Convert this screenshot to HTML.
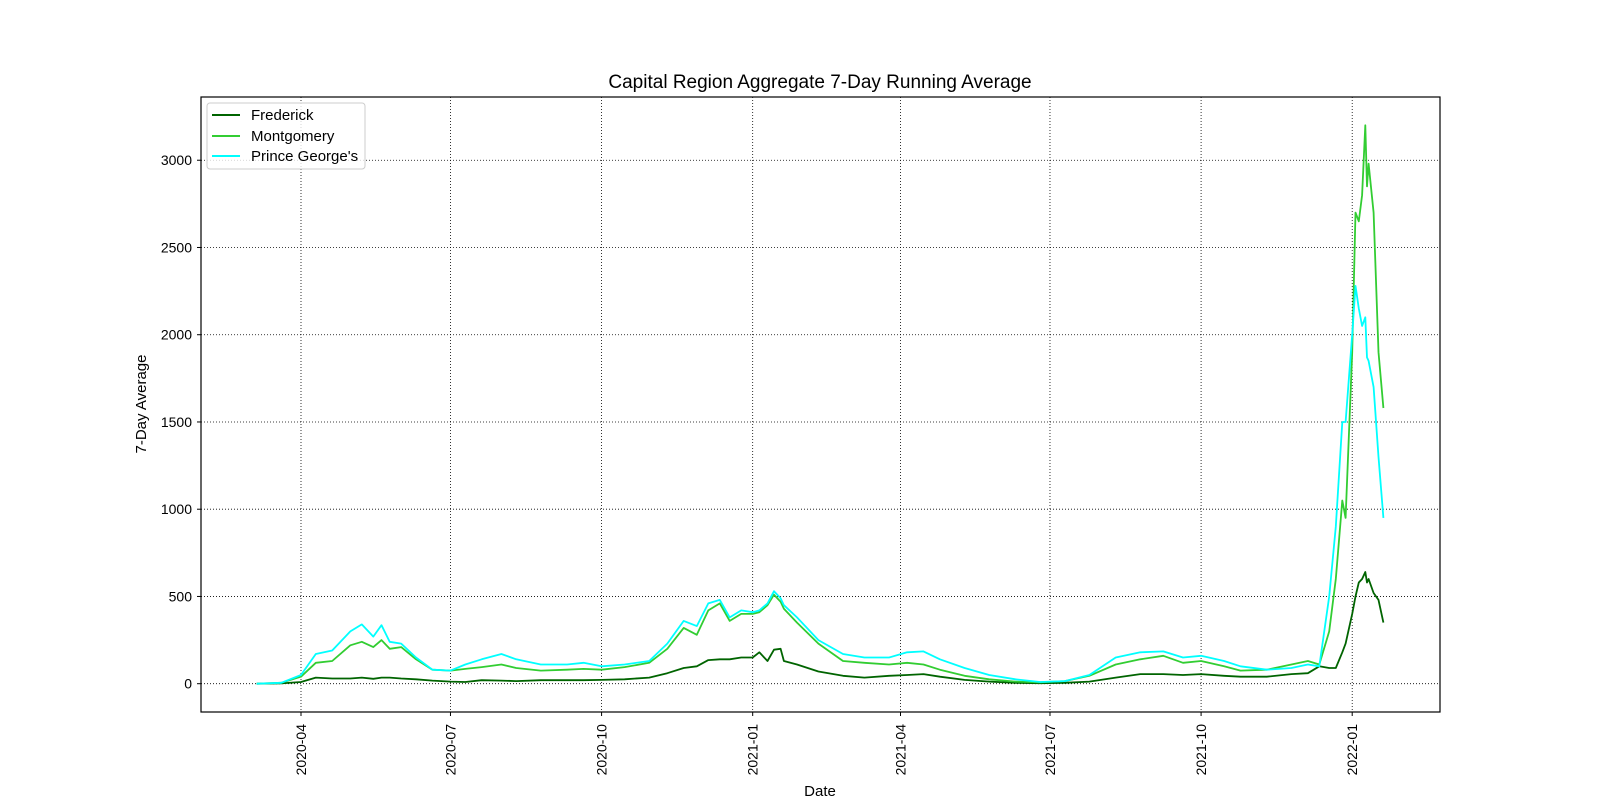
<!DOCTYPE html>
<html><head><meta charset="utf-8"><style>
body{margin:0;background:#fff;}
svg{display:block;font-family:"Liberation Sans",sans-serif;}
</style></head><body>
<svg id="c" width="1600" height="800"></svg>
<script>
const dates=["2020-03-05","2020-03-20","2020-04-01","2020-04-10","2020-04-20","2020-05-01","2020-05-08","2020-05-15","2020-05-20","2020-05-25","2020-06-01","2020-06-10","2020-06-20","2020-07-01","2020-07-10","2020-07-20","2020-08-01","2020-08-10","2020-08-25","2020-09-10","2020-09-20","2020-10-01","2020-10-15","2020-10-30","2020-11-10","2020-11-20","2020-11-28","2020-12-05","2020-12-12","2020-12-18","2020-12-25","2021-01-01","2021-01-05","2021-01-10","2021-01-14","2021-01-18","2021-01-20","2021-01-28","2021-02-10","2021-02-25","2021-03-10","2021-03-25","2021-04-05","2021-04-15","2021-04-25","2021-05-10","2021-05-25","2021-06-10","2021-06-25","2021-07-10","2021-07-25","2021-08-10","2021-08-25","2021-09-08","2021-09-20","2021-10-01","2021-10-15","2021-10-25","2021-11-10","2021-11-25","2021-12-05","2021-12-12","2021-12-18","2021-12-22","2021-12-26","2021-12-28","2022-01-01","2022-01-03","2022-01-05","2022-01-07","2022-01-09","2022-01-10","2022-01-11","2022-01-14","2022-01-17","2022-01-20"];
const montgomery=[0,5,40,120,130,220,240,210,250,200,210,140,80,75,85,95,110,90,75,80,85,80,95,120,200,320,280,420,460,360,400,400,410,450,510,470,430,350,230,130,120,110,120,110,80,45,25,12,8,15,45,110,140,160,120,130,100,75,80,110,130,110,300,600,1050,950,1900,2700,2650,2800,3200,2850,2980,2700,1900,1580];
const princeGeorges=[0,5,50,170,190,300,340,270,335,240,230,150,80,75,110,140,170,140,110,110,120,100,110,130,230,360,330,460,480,380,420,410,420,460,530,490,450,380,250,170,150,150,180,185,140,90,50,25,10,15,50,150,180,185,150,160,130,100,80,90,110,100,500,900,1500,1500,2000,2280,2150,2050,2100,1870,1850,1700,1300,950];
const frederick=[0,2,10,35,30,30,35,28,35,35,30,25,18,12,10,20,18,15,20,20,20,22,25,35,60,90,100,135,140,140,150,150,180,130,195,200,130,110,70,45,35,45,50,55,40,22,12,5,3,5,12,35,55,55,50,55,45,40,40,55,60,100,90,90,180,230,400,500,580,600,640,580,600,520,480,350];
const yTicks=[0,500,1000,1500,2000,2500,3000];
const xTicks=["2020-04","2020-07","2020-10","2021-01","2021-04","2021-07","2021-10","2022-01"];
const NS="http://www.w3.org/2000/svg",svg=document.getElementById('c');
const L=201,R=1440,T=97,B=712;
const t0=Date.UTC(2020,3,1);
function day(s){const p=s.split('-').map(Number);return (Date.UTC(p[0],p[1]-1,p[2]||1)-t0)/864e5;}
const X=d=>301+day(d)*1.6425;
const Y=v=>683.7-v*0.17449;
function el(tag,attrs,parent){const e=document.createElementNS(NS,tag);for(const k in attrs)e.setAttribute(k,attrs[k]);(parent||svg).appendChild(e);return e;}
function txt(s,attrs){const e=el('text',attrs);e.textContent=s;return e;}
yTicks.forEach(v=>{const y=Y(v);
 const g=el('line',{x1:L,x2:R,y1:y,y2:y,stroke:'#000','stroke-width':0.8,'stroke-dasharray':'1,2'});
 
 el('line',{x1:L-4,x2:L,y1:y,y2:y,stroke:'#000'});
 const t=txt(v,{x:L-9,y:y+5,'text-anchor':'end','font-size':14});
 });
xTicks.forEach(d=>{const x=X(d);
 const g=el('line',{x1:x,x2:x,y1:T,y2:B,stroke:'#000','stroke-width':0.8,'stroke-dasharray':'1,2'});
 
 el('line',{x1:x,x2:x,y1:B,y2:B+4,stroke:'#000'});
 const t=txt(d,{x:x+5,y:B+12,'text-anchor':'end','font-size':14,transform:`rotate(-90 ${x+5} ${B+12})`});
 });
[[frederick,'#006400','frederick-line'],[montgomery,'#32CD32','montgomery-line'],[princeGeorges,'#00FFFF','prince-georges-line']].forEach(([vals,c,n])=>{
 const p=el('polyline',{points:vals.map((v,i)=>X(dates[i]).toFixed(1)+','+Y(v).toFixed(1)).join(' '),fill:'none',stroke:c,'stroke-width':1.8,'stroke-linejoin':'round'});
 });
const fr=el('rect',{x:L,y:T,width:R-L,height:B-T,fill:'none',stroke:'#000','stroke-width':1.2});

</script>
<svg style="position:absolute;left:0;top:0" width="1600" height="800">
<text x="820" y="88" text-anchor="middle" font-size="19">Capital Region Aggregate 7-Day Running Average</text>
<text x="820" y="796" text-anchor="middle" font-size="15">Date</text>
<text x="146" y="404" text-anchor="middle" font-size="15" transform="rotate(-90 146 404)">7-Day Average</text>
<g>
<rect x="207" y="103" width="158" height="66" rx="3" fill="#fff" fill-opacity="0.8" stroke="#ccc"/>
<line x1="212" x2="240" y1="115" y2="115" stroke="#006400" stroke-width="2"/>
<text x="251" y="120" font-size="15">Frederick</text>
<line x1="212" x2="240" y1="136" y2="136" stroke="#32CD32" stroke-width="2"/>
<text x="251" y="141" font-size="15">Montgomery</text>
<line x1="212" x2="240" y1="156" y2="156" stroke="#00FFFF" stroke-width="2"/>
<text x="251" y="161" font-size="15">Prince George's</text>
</g>
</svg>
</body></html>
